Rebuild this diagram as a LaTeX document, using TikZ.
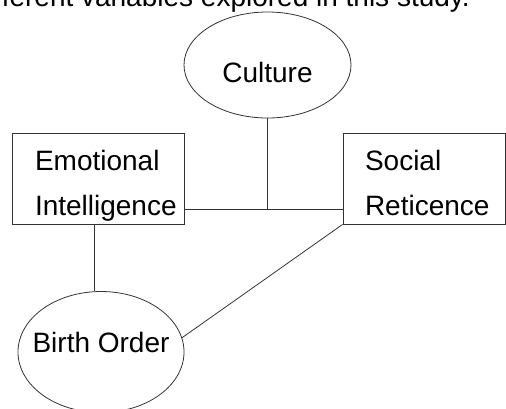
\documentclass[tikz,border=0pt]{standalone}
\usepackage{fontspec}
\setmainfont{Liberation Sans}
\usetikzlibrary{positioning, shapes.geometric, calc}

\begin{document}
\begin{tikzpicture}[x=0.75pt, y=-0.75pt,
  font=\fontsize{21pt}{33.75pt}\selectfont,
  link/.style={draw=black!80, line width=0.6pt},
  box/.style={link, rectangle, minimum height=68.25pt, inner ysep=0pt, align=left, text height=15pt, text depth=27.75pt},
  oval/.style={link, ellipse, inner sep=0pt}]
\clip (0,0) rectangle (506,408);
\node[anchor=base east, inner sep=0pt] (cap) at (470,6) {different variables explored in this study.};
\node[oval, minimum width=125.25pt, minimum height=79.5pt, text height=25.5pt, text depth=0pt] (cult) at (267.5,65) {Culture};
\node[box, minimum width=129pt, inner xsep=17.25pt, text width=94.5pt] (emo) at (98,178.5) {Emotional\\\mbox{Intelligence}};
\node[box, minimum width=121.5pt, inner xsep=16.5pt, text width=88.5pt] (soc) at (424,178.5) {Social\\\mbox{Reticence}};
\node[oval, minimum width=124.5pt, minimum height=90.75pt, inner xsep=-10pt, text height=15pt, text depth=15pt] (birth) at (101,352) {Birth Order};
\coordinate (j) at (267.5,209);
\draw[link] (emo.east |- j) -- (soc.west |- j);
\draw[link] (cult) -- (j);
\draw[link] ([xshift=-3pt]emo.south) -- ([xshift=-3pt]emo.south |- birth.north);
\draw[link] (soc.south west) -- (birth.10);
\end{tikzpicture}
\end{document}
